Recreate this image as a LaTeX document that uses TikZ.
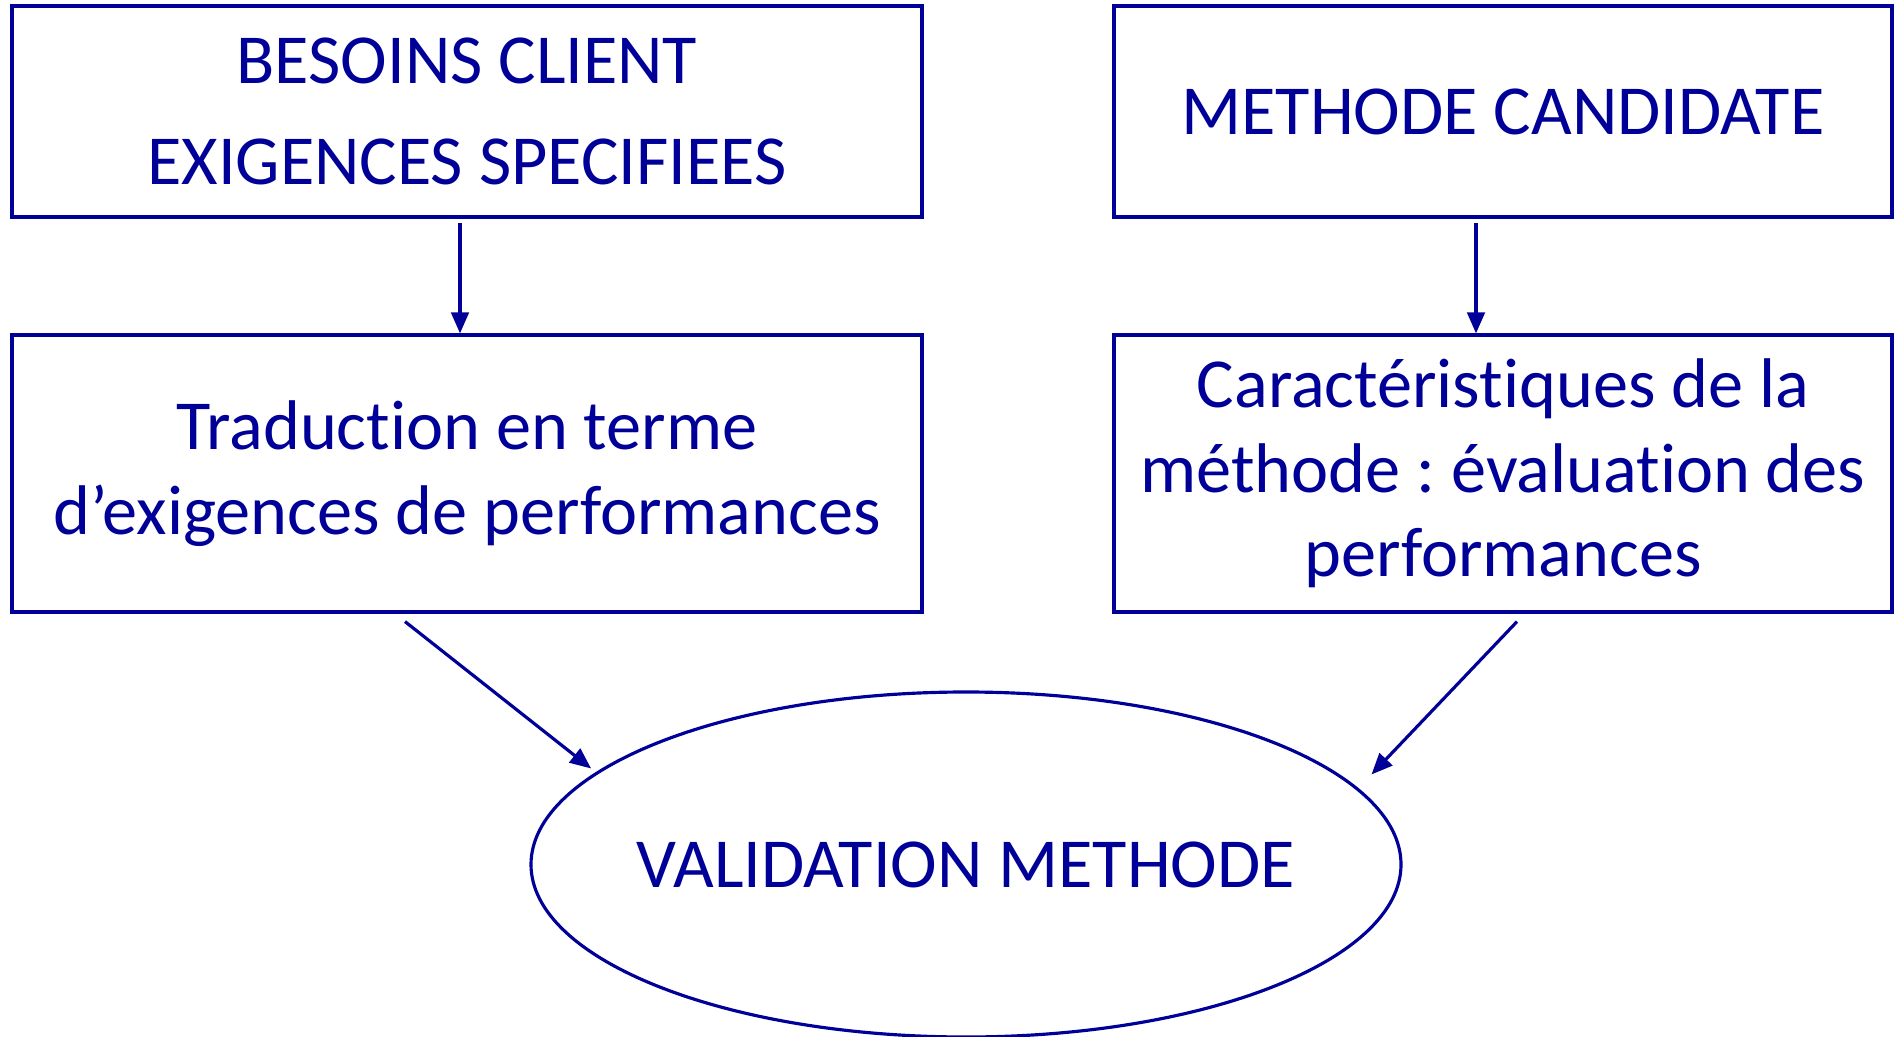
\documentclass[tikz,border=0pt]{standalone}
\usepackage{fontspec}
\setmainfont{Carlito}[Ligatures={NoCommon}]
\usepackage{tikz}
\usetikzlibrary{shapes,arrows.meta,positioning}
\definecolor{navy}{RGB}{0,0,153}
\frenchspacing
\tikzstyle{bloc} = [rectangle, draw=navy, line width=0.9pt, text=navy,
                    align=center, inner sep=0pt,
                    font=\fontsize{20}{24}\selectfont]
\tikzstyle{cible} = [ellipse, draw=navy, line width=0.9pt, text=navy,
                     inner sep=0pt, font=\fontsize{20}{24}\selectfont]
\tikzstyle{fleche} = [line width=0.9pt, draw=navy, fill=navy,
                      -{Triangle[length=6pt, width=5pt]}]

\begin{document}
\begin{tikzpicture}
                \useasboundingbox (0,0) rectangle (18.94,-10.37);

                % Top row
                \node[bloc, minimum width=9.10cm, minimum height=2.11cm] (besoins) at (4.67,-1.115)
                    {BESOINS CLIENT\\[4.5pt]EXIGENCES SPECIFIEES};
                \node[bloc, minimum width=7.78cm, minimum height=2.11cm] (methode) at (15.03,-1.115)
                    {METHODE CANDIDATE};

                % Second row
                \node[bloc, minimum width=9.10cm, minimum height=2.77cm] (traduction) at (4.67,-4.735)
                    {Traduction en terme\\d’exigences de performances};
                \node[bloc, minimum width=7.78cm, minimum height=2.77cm] (carac) at (15.03,-4.735)
                    {Caractéristiques de la\\méthode : évaluation des\\performances};

                % Validation (text as label so the ellipse keeps its size)
                \node[cible, minimum width=8.70cm, minimum height=3.45cm,
                      label={[text=navy, font=\fontsize{20}{24}\selectfont]center:VALIDATION METHODE}] (validation) at (9.66,-8.645) {};

                % Arrows
                \draw[fleche, shorten <=0.04cm] ([xshift=-0.07cm]besoins.south) -- ([xshift=-0.07cm]traduction.north);
                \draw[fleche, shorten <=0.04cm] ([xshift=-0.27cm]methode.south) -- ([xshift=-0.27cm]carac.north);
                \draw[fleche, shorten >=0.06cm] ([xshift=-0.62cm, yshift=-0.08cm]traduction.south) -- (validation.166.8);
                \draw[fleche, shorten >=0.19cm] ([xshift=0.14cm, yshift=-0.08cm]carac.south) -- (validation.11.4);
            \end{tikzpicture}
\end{document}
